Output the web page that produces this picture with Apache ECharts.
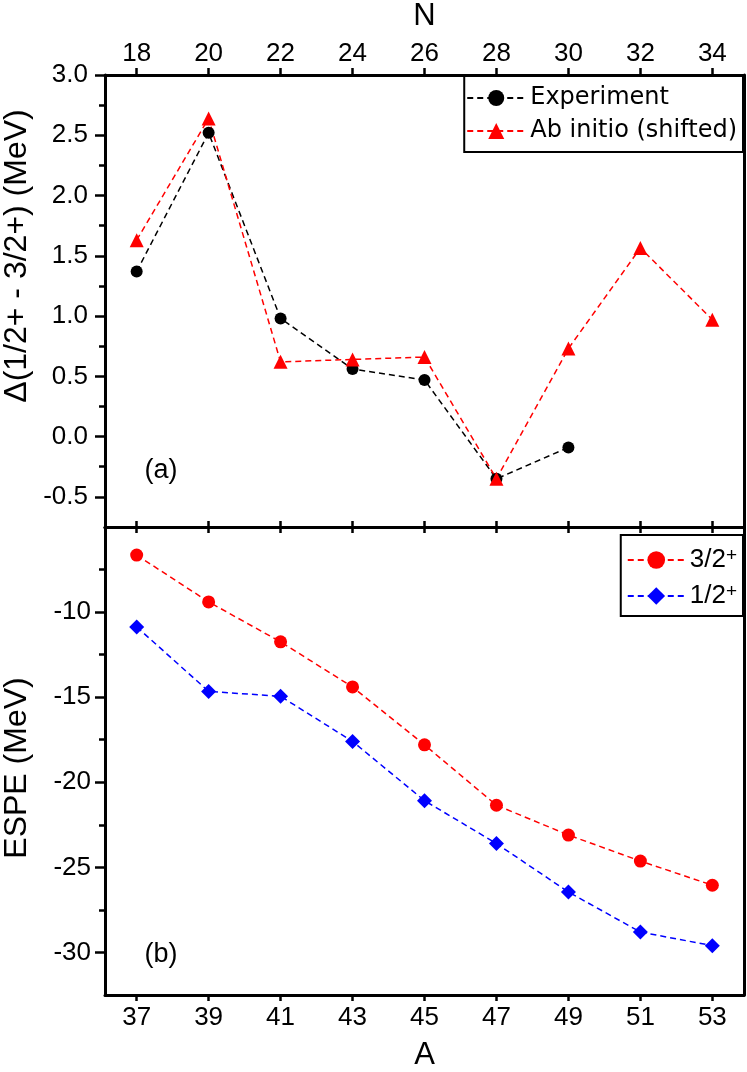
<!DOCTYPE html>
<html><head><meta charset="utf-8">
<script src="https://cdn.jsdelivr.net/npm/echarts@6/dist/echarts.min.js"></script>
<style>html,body{margin:0;padding:0;background:#fff}#c{width:747px;height:1072px}</style>
</head><body><div id="c"></div>
<script>
// ---- data ----
const A = [37, 39, 41, 43, 45, 47, 49, 51, 53];
const N = [18, 20, 22, 24, 26, 28, 30, 32, 34];
const experiment = [1.37, 2.52, 0.98, 0.56, 0.47, -0.35, -0.09];
const abInitio = [1.63, 2.64, 0.62, 0.64, 0.66, -0.35, 0.73, 1.565, 0.97];
const espe32 = [-6.65, -9.4, -11.75, -14.4, -17.8, -21.35, -23.1, -24.63, -26.05];
const espe12 = [-10.87, -14.66, -14.95, -17.6, -21.08, -23.6, -26.45, -28.8, -29.6];
const topMajorTicks = [-0.5, 0, 0.5, 1, 1.5, 2, 2.5, 3];
const topMinorTicks = [-0.25, 0.25, 0.75, 1.25, 1.75, 2.25, 2.75];
const bottomMajorTicks = [-30, -25, -20, -15, -10];
const bottomMinorTicks = [-27.5, -22.5, -17.5, -12.5, -7.5];

const FONT = '"Liberation Sans", Arial, sans-serif';
const AXW = 3, TKW = 2.5;
const xMinA = 36.12, xMaxA = 53.88;
const offN = A[0] - N[0];

function pts(xs, ys) { return ys.map((v, i) => [xs[i], v]); }

function xAx(grid, pos, opts) {
  return Object.assign({
    type: 'value', gridIndex: grid, position: pos, min: xMinA, max: xMaxA,
    axisLine: { show: true, onZero: false, lineStyle: { color: '#000', width: AXW } },
    axisTick: { show: false }, axisLabel: { show: false }, splitLine: { show: false }
  }, opts || {});
}
function yAx(grid, pos, min, max, opts) {
  return Object.assign({
    type: 'value', gridIndex: grid, position: pos, min: min, max: max,
    axisLine: { show: true, onZero: false, lineStyle: { color: '#000', width: AXW } },
    axisTick: { show: false }, axisLabel: { show: false }, splitLine: { show: false }
  }, opts || {});
}
const labelStyle = { show: true, color: '#000', fontFamily: FONT, fontSize: 26 };

const option = {
  animation: false,
  backgroundColor: '#fff',
  grid: [
    { left: 105, right: 3, top: 72, height: 455 },
    { left: 105, right: 3, top: 527, height: 474 }
  ],
  xAxis: [
    xAx(0, 'bottom', { axisTick: { show: true, inside: true, length: 6, lineStyle: { width: TKW, color: '#000' }, customValues: A } }),
    xAx(0, 'top', {
      min: xMinA - offN, max: xMaxA - offN,
      axisTick: { show: true, inside: false, length: 7, lineStyle: { width: TKW, color: '#000' }, customValues: N },
      axisLabel: Object.assign({}, labelStyle, { margin: 8, customValues: N }),
      name: 'N', nameLocation: 'middle', nameGap: 43,
      nameTextStyle: { color: '#000', fontFamily: FONT, fontSize: 31 }
    }),
    xAx(1, 'top', { axisTick: { show: true, inside: true, length: 6, lineStyle: { width: TKW, color: '#000' }, customValues: A } }),
    xAx(1, 'bottom', {
      axisTick: { show: true, inside: false, length: 6, lineStyle: { width: TKW, color: '#000' }, customValues: A },
      axisLabel: Object.assign({}, labelStyle, { margin: 10, customValues: A }),
      name: 'A', nameLocation: 'middle', nameGap: 45,
      nameTextStyle: { color: '#000', fontFamily: FONT, fontSize: 31 }
    })
  ],
  yAxis: [
    yAx(0, 'left', -0.75, 3, {
      axisTick: { show: true, length: 10, lineStyle: { width: TKW, color: '#000' }, customValues: topMajorTicks },
      axisLabel: Object.assign({}, labelStyle, { margin: 17, customValues: topMajorTicks, formatter: v => v.toFixed(1) })
    }),
    yAx(0, 'left', -0.75, 3, {
      axisLine: { show: false },
      axisTick: { show: true, length: 6, lineStyle: { width: TKW, color: '#000' }, customValues: topMinorTicks }
    }),
    yAx(0, 'right', -0.75, 3),
    yAx(1, 'left', -32.5, -5, {
      axisTick: { show: true, length: 10, lineStyle: { width: TKW, color: '#000' }, customValues: bottomMajorTicks },
      axisLabel: Object.assign({}, labelStyle, { margin: 14, customValues: bottomMajorTicks })
    }),
    yAx(1, 'left', -32.5, -5, {
      axisLine: { show: false },
      axisTick: { show: true, length: 6, lineStyle: { width: TKW, color: '#000' }, customValues: bottomMinorTicks }
    }),
    yAx(1, 'right', -32.5, -5)
  ],
  legend: [
    {
      data: ['Experiment', 'Ab initio (shifted)'],
      orient: 'vertical', right: 4, top: 76,
      itemWidth: 58, itemHeight: 20, itemGap: 9,
      padding: [10, 6, 9, 2],
      borderColor: '#000', borderWidth: 2, backgroundColor: '#fff',
      textStyle: { color: '#000', fontFamily: '"DejaVu Sans", sans-serif', fontSize: 24, lineHeight: 20 }
    },
    {
      data: ['3/2+', '1/2+'],
      orient: 'vertical', right: 4, top: 535,
      itemWidth: 57, itemHeight: 22, itemGap: 8,
      padding: [11, 6, 6, 6],
      borderColor: '#000', borderWidth: 2, backgroundColor: '#fff',
      formatter: name => '{b|' + name.replace('+', '') + '}{sup|+}',
      textStyle: {
        color: '#000', fontFamily: FONT, fontSize: 26, lineHeight: 28,
        rich: {
          b: { fontFamily: FONT, fontSize: 26, lineHeight: 28, color: '#000' },
          sup: { fontFamily: FONT, fontSize: 19, lineHeight: 8, verticalAlign: 'top', color: '#000' }
        }
      }
    }
  ],
  graphic: [
    { type: 'text', x: 161, y: 471, style: { text: '(a)', fill: '#000', font: '27px ' + FONT, align: 'center', verticalAlign: 'middle' } },
    { type: 'text', x: 161, y: 955, style: { text: '(b)', fill: '#000', font: '27px ' + FONT, align: 'center', verticalAlign: 'middle' } },
    { type: 'text', x: 17, y: 256, rotation: Math.PI / 2, style: { text: 'Δ(1/2+ - 3/2+) (MeV)', fill: '#000', font: '32px ' + FONT, align: 'center', verticalAlign: 'middle' } },
    { type: 'text', x: 17, y: 768, rotation: Math.PI / 2, style: { text: 'ESPE (MeV)', fill: '#000', font: '32px ' + FONT, align: 'center', verticalAlign: 'middle' } }
  ],
  series: [
    {
      name: 'Experiment', type: 'line', xAxisIndex: 0, yAxisIndex: 0,
      data: pts(A, experiment), symbol: 'circle', symbolSize: 12,
      itemStyle: { color: '#000' }, lineStyle: { color: '#000', width: 1.5, type: [6, 4] }
    },
    {
      name: 'Ab initio (shifted)', type: 'line', xAxisIndex: 0, yAxisIndex: 0,
      data: pts(A, abInitio), symbol: 'triangle', symbolSize: 14,
      itemStyle: { color: '#ff0000' }, lineStyle: { color: '#ff0000', width: 1.5, type: [6, 4] }
    },
    {
      name: '3/2+', type: 'line', xAxisIndex: 3, yAxisIndex: 3,
      data: pts(A, espe32), symbol: 'circle', symbolSize: 13,
      itemStyle: { color: '#ff0000' }, lineStyle: { color: '#ff0000', width: 1.5, type: [6, 4] }
    },
    {
      name: '1/2+', type: 'line', xAxisIndex: 3, yAxisIndex: 3,
      data: pts(A, espe12), symbol: 'diamond', symbolSize: 15,
      itemStyle: { color: '#0000ff' }, lineStyle: { color: '#0000ff', width: 1.5, type: [6, 4] }
    }
  ]
};
echarts.init(document.getElementById('c')).setOption(option);
</script></body></html>
